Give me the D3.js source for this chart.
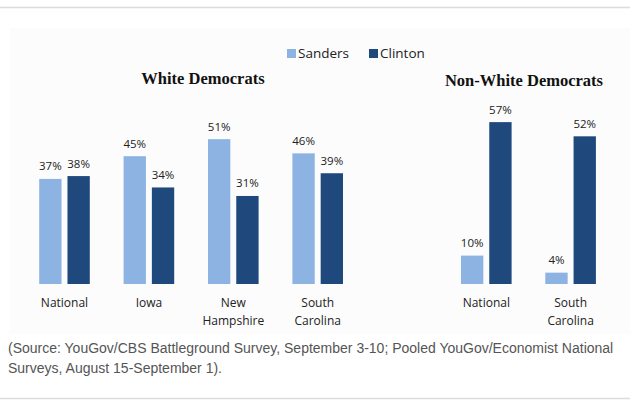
<!DOCTYPE html>
<html><head><meta charset="utf-8">
<script src="https://cdn.jsdelivr.net/npm/d3@7"></script>
<style>body{margin:0;background:#fff}svg{display:block}</style>
</head><body>
<script>
const series = ["Sanders", "Clinton"];
const colors = ["#8db3e2", "#1f497d"];
const whiteCategories = ["National", "Iowa", "New Hampshire", "South Carolina"];
const whiteSanders = [37, 45, 51, 46];
const whiteClinton = [38, 34, 31, 39];
const nonWhiteCategories = ["National", "South Carolina"];
const nonWhiteSanders = [10, 4];
const nonWhiteClinton = [57, 52];
const categoryLines = {"National": ["National"], "Iowa": ["Iowa"], "New Hampshire": ["New", "Hampshire"], "South Carolina": ["South", "Carolina"]};
const sourceLines = ["(Source: YouGov/CBS Battleground Survey, September 3-10; Pooled YouGov/Economist National", "Surveys, August 15-September 1)."];

const W = 637, H = 413;
const svg = d3.select("body").append("svg").attr("width", W).attr("height", H);

svg.append("line").attr("x1", 0).attr("x2", 630).attr("y1", 7.5).attr("y2", 7.5).attr("stroke", "#dcdcdc").attr("stroke-width", 1.5);
svg.append("line").attr("x1", 0).attr("x2", 630).attr("y1", 398.5).attr("y2", 398.5).attr("stroke", "#dcdcdc").attr("stroke-width", 1.5);
svg.append("rect").attr("x", 10).attr("y", 28).attr("width", 620).attr("height", 306).attr("fill", "#fcfcfc");

const y = d3.scaleLinear().domain([0, 100]).range([284, 0]);
const x1 = d3.scaleBand().domain(series).range([-25.3, 25.3]).paddingInner(0.21);

function panel(cats, sVals, cVals, range, title, titleX, titleY) {
  const x0 = d3.scaleBand().domain(cats).range(range);
  const data = cats.map((c, i) => ({cat: c, vals: [sVals[i], cVals[i]]}));
  const g = svg.append("g");
  const grp = g.selectAll("g.grp").data(data).join("g")
    .attr("transform", d => `translate(${x0(d.cat) + x0.bandwidth() / 2},0)`);
  grp.selectAll("rect").data(d => d.vals.map((v, j) => ({s: series[j], v, j}))).join("rect")
    .attr("x", d => x1(d.s)).attr("width", x1.bandwidth())
    .attr("y", d => y(d.v)).attr("height", d => y(0) - y(d.v))
    .attr("fill", d => colors[d.j]);
  grp.selectAll("text.val").data(d => d.vals.map((v, j) => ({s: series[j], v, j}))).join("text")
    .attr("class", "val")
    .attr("x", d => x1(d.s) + x1.bandwidth() / 2).attr("y", d => y(d.v) - 8.5)
    .attr("text-anchor", "middle").attr("font-family", "'Open Sans', sans-serif").attr("font-size", 11.5).attr("fill", "#222")
    .text(d => d.v + "%");
  grp.each(function(d) {
    const lines = categoryLines[d.cat];
    const t = d3.select(this).append("text").attr("text-anchor", "middle")
      .attr("font-family", "'Open Sans', sans-serif").attr("font-size", 12).attr("fill", "#222");
    lines.forEach((l, i) => t.append("tspan").attr("x", 0).attr("y", 307 + i * 18).text(l));
  });
  svg.append("text").attr("x", titleX).attr("y", titleY).attr("text-anchor", "middle")
    .attr("font-family", "'Liberation Serif', 'Times New Roman', serif").attr("font-weight", "bold").attr("font-size", 16.5).attr("fill", "#111")
    .text(title);
}
panel(whiteCategories, whiteSanders, whiteClinton, [22.3, 359.9], "White Democrats", 203, 83.5);
panel(nonWhiteCategories, nonWhiteSanders, nonWhiteClinton, [444.15, 612.75], "Non-White Democrats", 524, 86);

// legend
const leg = svg.append("g").attr("transform", "translate(287,53.5)");
const legX = [0, 82];
series.forEach((s, i) => {
  leg.append("rect").attr("x", legX[i]).attr("y", -4.5).attr("width", 9).attr("height", 9).attr("fill", colors[i]);
  leg.append("text").attr("x", legX[i] + 11).attr("y", 4.8).attr("font-family", "'Open Sans', sans-serif").attr("font-size", 13.5).attr("fill", "#222").text(s);
});

svg.selectAll("text.src").data(sourceLines).join("text").attr("class", "src")
  .attr("x", 8).attr("y", (d, i) => 353 + i * 20)
  .attr("font-family", "'Liberation Sans', sans-serif").attr("font-size", 14).attr("fill", "#555")
  .text(d => d);
</script>
</body></html>
